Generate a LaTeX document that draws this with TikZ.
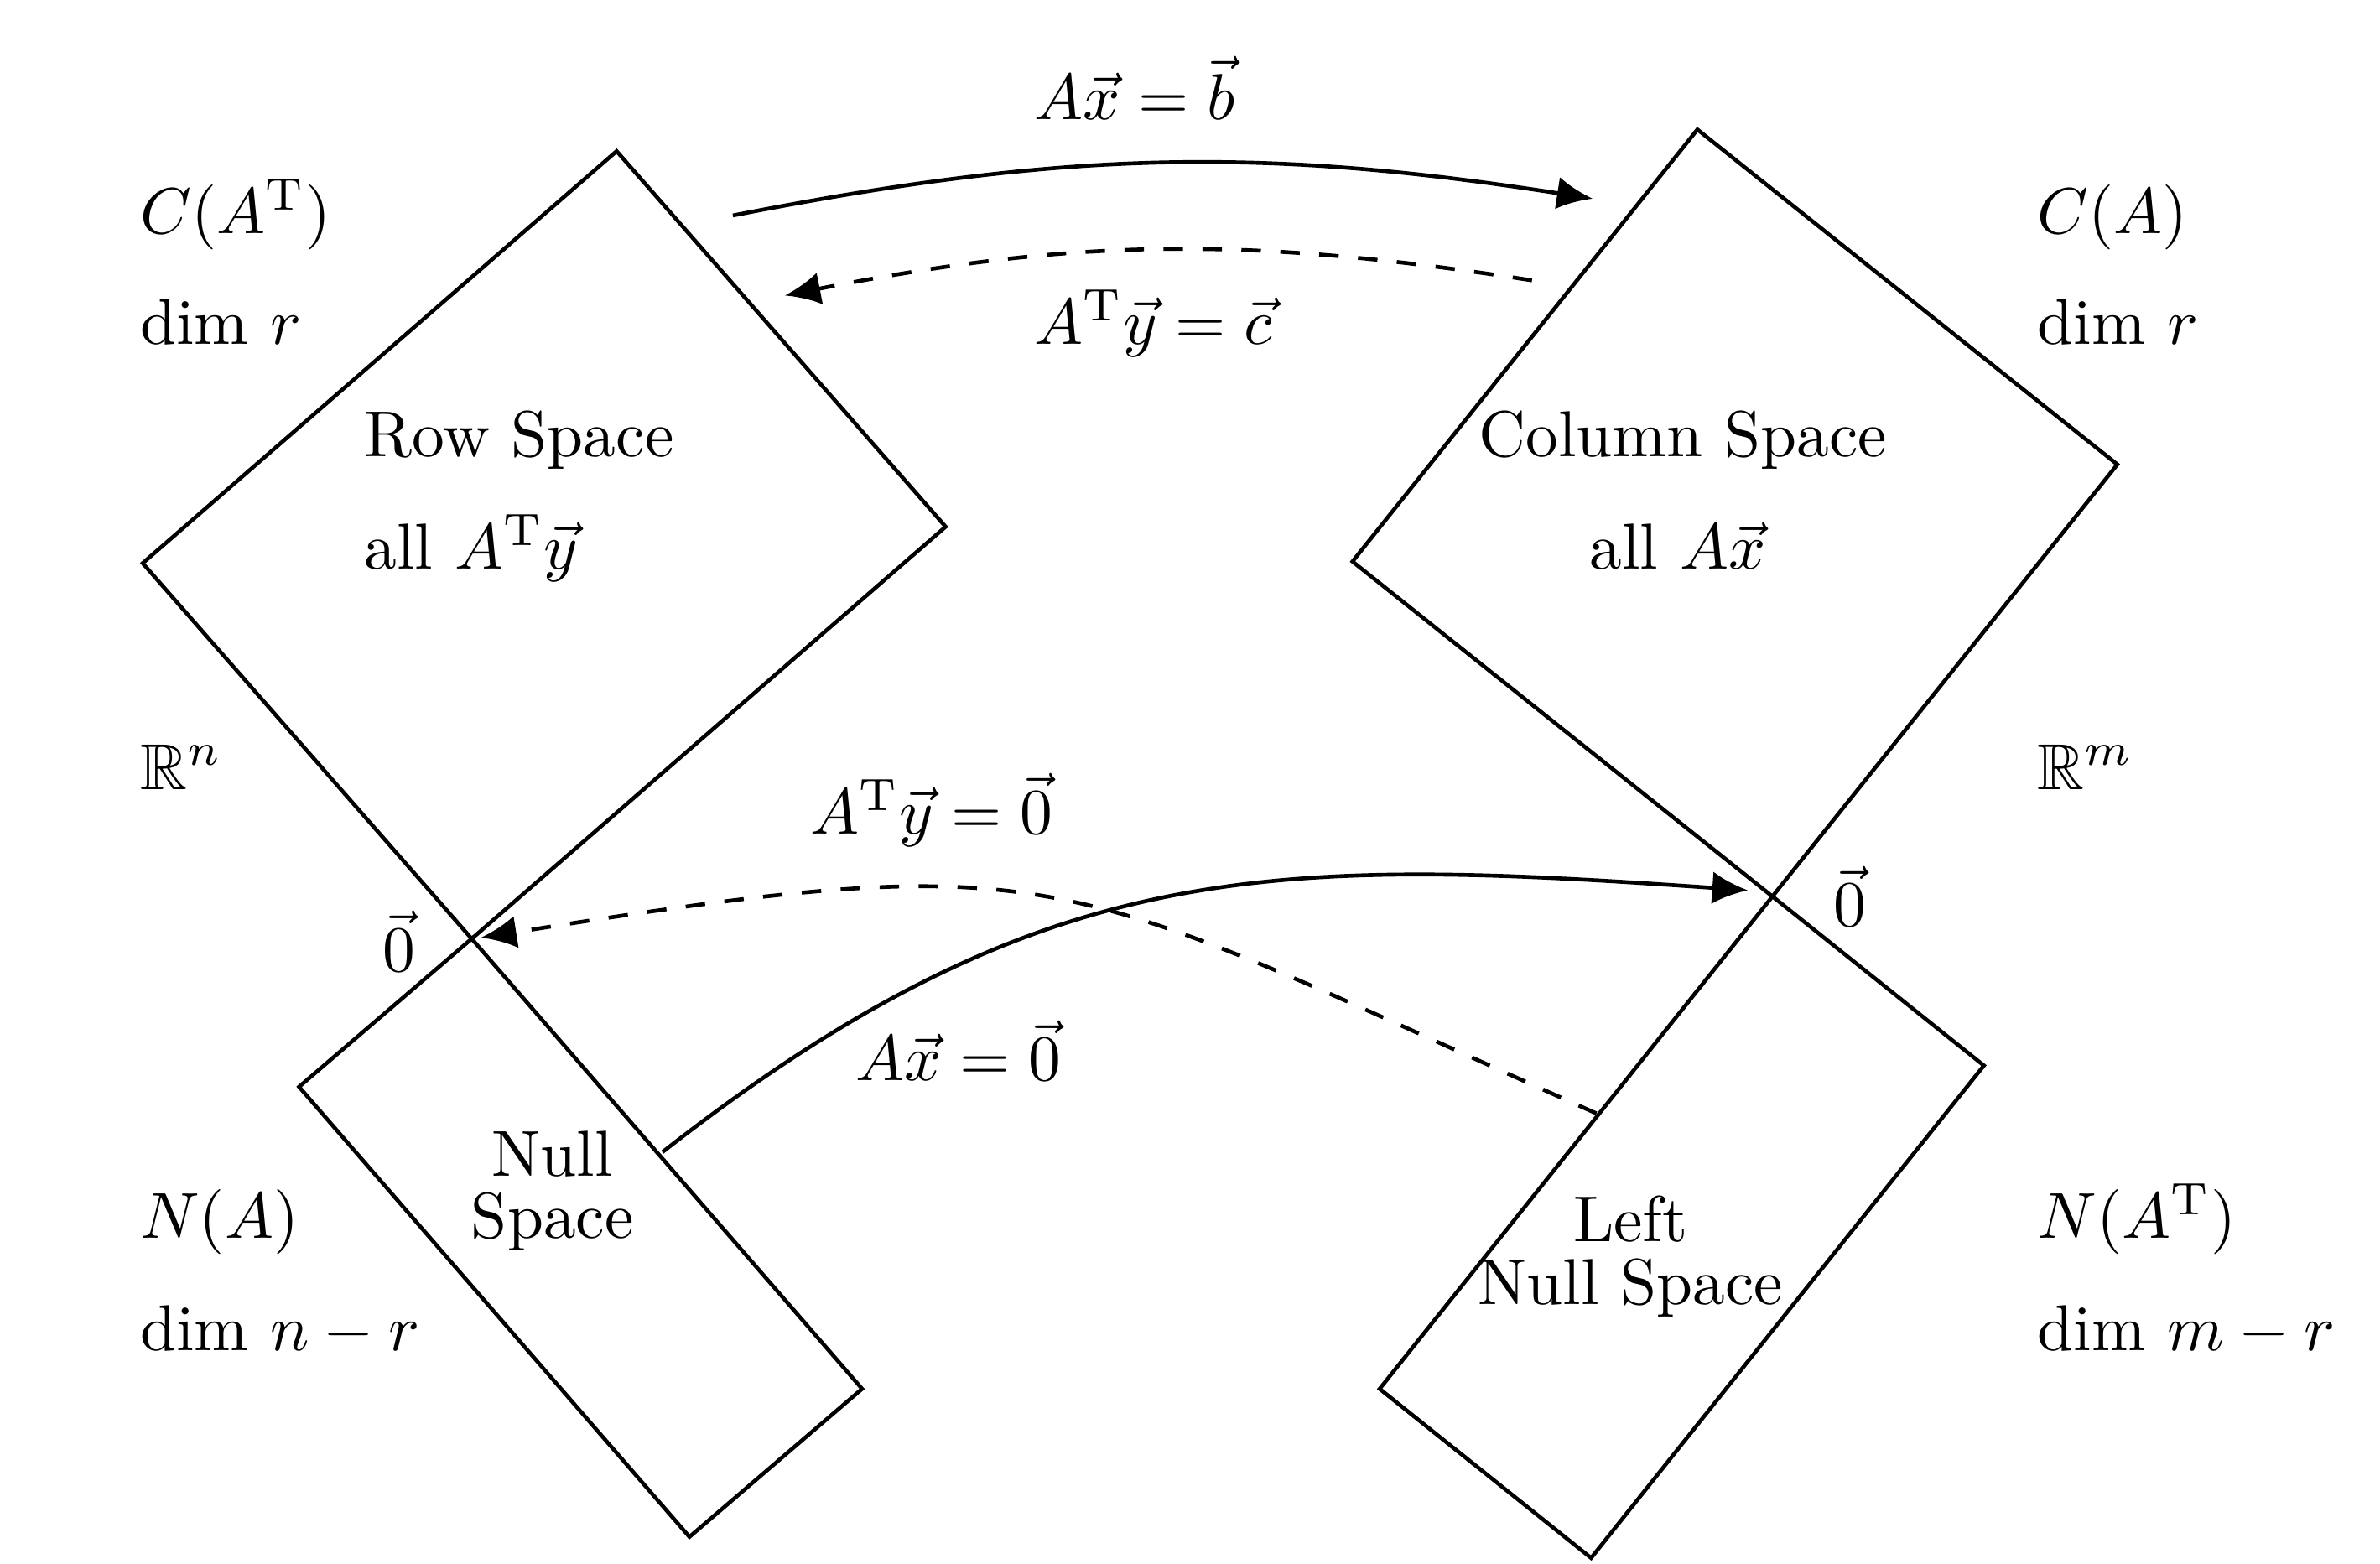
\documentclass[tikz,border=0pt]{standalone}
\usepackage{amsmath,amssymb}
\usetikzlibrary{arrows.meta}
\tikzset{>={Latex[length=5.5pt,width=5pt]}}
\tikzset{
  space/.style={semithick},
  lbl/.style={anchor=base west,inner sep=0pt},
  map/.style={->,semithick},
}

\begin{document}
\begin{tikzpicture}
    \useasboundingbox (0,0) rectangle (12.876,8.458);
    % the two origins
    \coordinate (O1) at (2.552,3.379);
    \coordinate (O2) at (9.589,3.608);

    % R^n: row space and null space
    \draw[space] (O1) -- ++(2.564,2.229) -- ++(-1.780,2.032) -- ++(-2.564,-2.229) -- cycle;
    \draw[space] (O1) -- ++(2.112,-2.435) -- ++(-0.934,-0.801) -- ++(-2.112,2.435) -- cycle;
    % R^m: column space and left null space
    \draw[space] (O2) -- ++(1.866,2.337) -- ++(-2.272,1.812) -- ++(-1.866,-2.337) -- cycle;
    \draw[space] (O2) -- ++(1.144,-0.915) -- ++(-2.125,-2.664) -- ++(-1.144,0.915) -- cycle;

    \node[lbl] (rowname) at (1.964,5.987) {Row Space};
    \node[lbl] (rowall) at (1.964,5.379) {all $A^{\mathrm{T}}\vec{y}$};
    \node[anchor=base,inner sep=0pt] (colname) at (9.105,5.987) {Column Space};
    \node[anchor=base,inner sep=0pt] (colall) at (9.076,5.379) {all $A\vec{x}$};
    \node[align=center,inner sep=0pt] (nullname) at (2.989,2.016) {Null\\[-2.4pt]Space};
    \node[align=center,inner sep=0pt] (leftname) at (8.822,1.660) {Left\\[-2.4pt]Null Space};

    \node[anchor=base,inner sep=0pt] (zero1) at (2.160,3.202) {$\vec{0}$};
    \node[anchor=base,inner sep=0pt] (zero2) at (10.007,3.446) {$\vec{0}$};

    % left column
    \node[lbl] (CAT) at (0.752,7.194) {$C(A^{\mathrm{T}})$};
    \node[lbl] (dimrl) at (0.752,6.595) {dim $r$};
    \node[lbl] (Rn) at (0.752,4.188) {$\mathbb{R}^n$};
    \node[lbl] (NA) at (0.752,1.759) {$N(A)$};
    \node[lbl] (dimnr) at (0.752,1.151) {dim $n-r$};
    % right column
    \node[lbl] (CA) at (11.016,7.194) {$C(A)$};
    \node[lbl] (dimrr) at (11.016,6.595) {dim $r$};
    \node[lbl] (Rm) at (11.016,4.188) {$\mathbb{R}^m$};
    \node[lbl] (NAT) at (11.016,1.759) {$N(A^{\mathrm{T}})$};
    \node[lbl] (dimmr) at (11.016,1.151) {dim $m-r$};

    % the four maps
    \coordinate (b1) at (3.965,7.292);
    \coordinate (b2) at (8.617,7.383);
    \draw[map] (b1) to[bend left=10] (b2);
    \node[lbl] (Axb) at (5.589,7.810) {$A\vec{x}=\vec{b}$};

    \coordinate (c1) at (8.288,6.941);
    \coordinate (c2) at (4.245,6.859);
    \draw[map,dashed] (c1) to[bend right=10] (c2);
    \node[lbl] (ATyc) at (5.589,6.595) {$A^{\mathrm{T}}\vec{y}=\vec{c}$};

    \coordinate (z1) at (8.637,2.434);
    \coordinate (z2) at (2.601,3.385);
    \draw[map,dashed] (z1) to[out=156,in=9,looseness=1.35] (z2);
    \node[lbl] (ATy0) at (4.377,3.946) {$A^{\mathrm{T}}\vec{y}=\vec{0}$};

    \coordinate (n1) at (3.584,2.225);
    \coordinate (n2) at (9.457,3.641);
    \draw[map] (n1) to[out=38,in=176,looseness=1.1] (n2);
    \node[lbl] (Ax0) at (4.623,2.611) {$A\vec{x}=\vec{0}$};
\end{tikzpicture}
\end{document}
